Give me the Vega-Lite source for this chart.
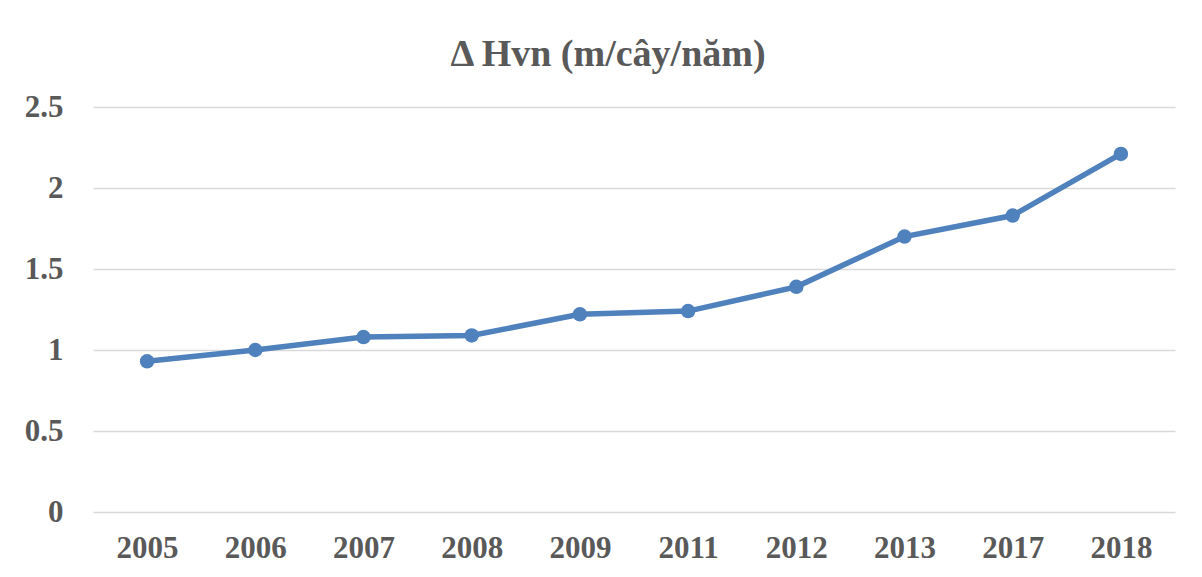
{
  "$schema": "https://vega.github.io/schema/vega-lite/v6.json",
  "autosize": "none",
  "width": 1082,
  "height": 405,
  "padding": {"left": 93, "top": 107, "right": 27, "bottom": 65},
  "background": "white",
  "title": {
    "text": "Δ Hvn (m/cây/năm)",
    "font": "Liberation Serif",
    "fontSize": 38,
    "fontWeight": "bold",
    "color": "#595959",
    "anchor": "middle",
    "frame": "group",
    "dx": -26,
    "baseline": "alphabetic",
    "offset": -13
  },
  "data": {
    "values": [
      {"year": "2005", "value": 0.93},
      {"year": "2006", "value": 1.0},
      {"year": "2007", "value": 1.08},
      {"year": "2008", "value": 1.09},
      {"year": "2009", "value": 1.22},
      {"year": "2011", "value": 1.24},
      {"year": "2012", "value": 1.39},
      {"year": "2013", "value": 1.70},
      {"year": "2017", "value": 1.83},
      {"year": "2018", "value": 2.21}
    ]
  },
  "mark": {"type": "line", "color": "#4f81bd", "strokeWidth": 5.5, "point": {"filled": true, "size": 210, "color": "#4f81bd", "opacity": 1}},
  "encoding": {
    "x": {
      "field": "year",
      "type": "ordinal",
      "sort": null,
      "scale": {"type": "point", "padding": 0.5},
      "axis": {
        "title": null,
        "labelAngle": 0,
        "ticks": false,
        "domain": false,
        "grid": false,
        "labelPadding": 21,
        "labelFont": "Liberation Serif",
        "labelFontSize": 31,
        "labelFontWeight": "bold",
        "labelColor": "#595959"
      }
    },
    "y": {
      "field": "value",
      "type": "quantitative",
      "scale": {"domain": [0, 2.5]},
      "axis": {
        "title": null,
        "values": [0, 0.5, 1, 1.5, 2, 2.5],
        "format": "~g",
        "ticks": false,
        "domain": false,
        "grid": true,
        "gridColor": "#d9d9d9",
        "gridWidth": 1.5,
        "labelPadding": 30,
        "labelFont": "Liberation Serif",
        "labelFontSize": 31,
        "labelFontWeight": "bold",
        "labelColor": "#595959"
      }
    }
  },
  "config": {"view": {"stroke": null}}
}
